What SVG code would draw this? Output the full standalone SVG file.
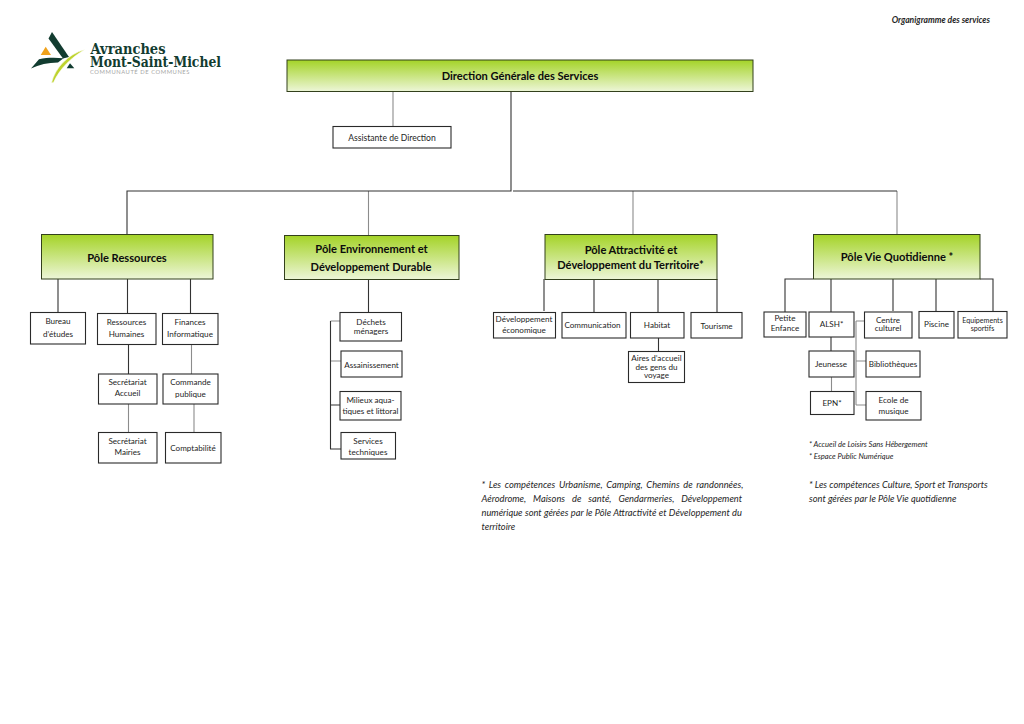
<svg xmlns="http://www.w3.org/2000/svg" width="1024" height="724" viewBox="0 0 1024 724">
<style>
text{font-family:Lato,"Liberation Sans",sans-serif;fill:#1e1e1e;text-anchor:middle}
.b rect{fill:#fff;stroke:#2a2a2a;stroke-width:1.1}
.b text{font-size:8.1px}
.p rect{fill:url(#g);stroke:#33401c;stroke-width:1}
.p text{font-size:11.1px;font-weight:700;fill:#0c0c0c}
.c path{fill:none;stroke:#333;stroke-width:1.1}
.c path.l{stroke:#8c8c8c}
.n text{text-anchor:start;font-style:italic;font-size:9.3px}
.s text{text-anchor:start;font-style:italic;font-size:7.6px}
.logo{font-family:"DejaVu Serif",serif;font-weight:700;fill:#123c30;text-anchor:start}
</style>
<defs><linearGradient id="g" x1="0" y1="0" x2="0" y2="1"><stop offset="0" stop-color="#a4d327"/><stop offset="1" stop-color="#edf6d8"/></linearGradient></defs>
<g id="logo">
<path fill="#123c30" d="M52 32L69 57 63 58.500 48.500 38.500Z"/>
<path fill="#123c30" d="M31 68.500L39 59.300C47 57.500 55 57.500 63.500 58.300L58 62.500C48 62.500 39 64.500 31 68.500Z"/>
<path fill="#123c30" d="M66.700 68.300L70 63.300 74.300 68.300Z"/>
<path fill="#f0a21c" d="M40.700 55L45.700 46.700 51 55Z"/>
<path fill="#bed32e" stroke="#fff" stroke-width=".6" d="M51.500 83C55 68 68 54 85 49.500 72 57 60 68 53.500 82.500Z"/>
<text class="logo" x="90.500" y="54" font-size="15.500" textLength="75" lengthAdjust="spacingAndGlyphs">Avranches</text>
<text class="logo" x="90" y="67" font-size="15.500" textLength="131" lengthAdjust="spacingAndGlyphs">Mont-Saint-Michel</text>
<text x="90" y="73.500" font-size="5.800" letter-spacing=".55" style="text-anchor:start;fill:#a6a6a6">COMMUNAUTÉ DE COMMUNES</text>
</g>
<text id="title" x="990" y="23" font-size="8.550" font-style="italic" font-weight="700" style="text-anchor:end">Organigramme des services</text>
<g id="connectors" class="c">
<path class="l" d="M393 91V126M368.500 191V235M633 191V234M897 191V234M128.500 404V433M191.500 344V374M194 404V432M330.500 321H340M330.500 361H341M856 321V405M856 321H864M856 361H866M856 405H866M831.500 377V391"/>
<path d="M511 91V191H127V234M513 191H897M58 279V312M127.500 279V313M190.500 279V313M128.500 344V374M368.500 279V312M330.500 321V449H341M330.500 405H340M544 279V311M594 279V312M658 279V312M717 279V312M658.500 338V351M785 312V279H813M831 279V312M893 279V311M936 279V311M980 279H993V311M831 337V351"/>
</g>
<g class="p">
<g id="dg"><rect x="287" y="60" width="466" height="31.500"/><text x="520" y="80">Direction Générale des Services</text></g>
<g id="pole-ressources"><rect x="41.500" y="234.500" width="171.500" height="44.500"/><text x="127" y="261.500">Pôle Ressources</text></g>
<g id="pole-environnement"><rect x="284.500" y="235.500" width="174.500" height="44"/><text x="371.500" y="253">Pôle Environnement et</text><text x="371" y="271">Développement Durable</text></g>
<g id="pole-attractivite"><rect x="545" y="234.500" width="172" height="45"/><text x="631" y="254">Pôle Attractivité et</text><text x="630.500" y="269">Développement du Territoire*</text></g>
<g id="pole-vie"><rect x="813.500" y="234.500" width="166.500" height="44.500"/><text x="897" y="261">Pôle Vie Quotidienne *</text></g>
</g>
<g class="b">
<g id="assistante"><rect x="333" y="126.500" width="118" height="21.500"/><text x="392" y="140.500" style="font-size:8.600px">Assistante de Direction</text></g>
<g id="bureau"><rect x="30.500" y="312.500" width="55" height="31.500"/><text x="58" y="324">Bureau</text><text x="58" y="337">d’études</text></g>
<g id="rh"><rect x="97.500" y="313.500" width="58.500" height="31"/><text x="126.500" y="325">Ressources</text><text x="126.500" y="337">Humaines</text></g>
<g id="finances"><rect x="162.500" y="313.500" width="55.500" height="31"/><text x="190" y="325">Finances</text><text x="190" y="337">Informatique</text></g>
<g id="sec-accueil"><rect x="98.500" y="374" width="58.500" height="30"/><text x="127.500" y="385">Secrétariat</text><text x="127.500" y="395.500">Accueil</text></g>
<g id="commande"><rect x="163" y="374" width="55" height="30"/><text x="190.500" y="385">Commande</text><text x="190.500" y="396.500">publique</text></g>
<g id="sec-mairies"><rect x="98.500" y="432.500" width="58.500" height="30.500"/><text x="127.500" y="444">Secrétariat</text><text x="127.500" y="455">Mairies</text></g>
<g id="comptabilite"><rect x="165.500" y="432.500" width="55.500" height="30.500"/><text x="193" y="451">Comptabilité</text></g>
<g id="dechets"><rect x="340" y="312.500" width="61.500" height="28.500"/><text x="371" y="325">Déchets</text><text x="371" y="333.500">ménagers</text></g>
<g id="assainissement"><rect x="341" y="351" width="61" height="26"/><text x="371.500" y="368">Assainissement</text></g>
<g id="milieux"><rect x="340" y="391.500" width="61" height="28.500"/><text x="370.500" y="403">Milieux aqua-</text><text x="370.500" y="414">tiques et littoral</text></g>
<g id="services"><rect x="341" y="432.500" width="54.500" height="26.500"/><text x="368" y="443.500">Services</text><text x="368" y="454.500">techniques</text></g>
<g id="dev-eco"><rect x="493.500" y="312.500" width="62" height="25.500"/><text x="524" y="322">Développement</text><text x="524" y="333">économique</text></g>
<g id="communication"><rect x="562" y="312.500" width="64" height="25.500"/><text x="592.500" y="328">Communication</text></g>
<g id="habitat"><rect x="630.500" y="312.500" width="53.500" height="25.500"/><text x="657" y="328">Habitat</text></g>
<g id="tourisme"><rect x="691" y="312.500" width="51" height="25.500"/><text x="716.500" y="328.500">Tourisme</text></g>
<g id="aires"><rect x="628.500" y="351.500" width="56" height="31"/><text x="656.500" y="361">Aires d’accueil</text><text x="656.500" y="369.500">des gens du</text><text x="656.500" y="378">voyage</text></g>
<g id="petite"><rect x="764" y="312" width="42" height="25"/><text x="785" y="321">Petite</text><text x="785" y="330.500">Enfance</text></g>
<g id="alsh"><rect x="809" y="312" width="45" height="25"/><text x="831.500" y="327">ALSH*</text></g>
<g id="centre"><rect x="864.500" y="312" width="47.500" height="26"/><text x="888" y="323">Centre</text><text x="888" y="331">culturel</text></g>
<g id="piscine"><rect x="919" y="311.500" width="35" height="26.500"/><text x="936.500" y="327">Piscine</text></g>
<g id="equipements"><rect x="958" y="311.500" width="49" height="26.500"/><text x="982.500" y="323" style="font-size:7.100px">Equipements</text><text x="982.500" y="330.500" style="font-size:7.100px">sportifs</text></g>
<g id="jeunesse"><rect x="809" y="351" width="45" height="26"/><text x="831" y="367">Jeunesse</text></g>
<g id="biblio"><rect x="866" y="351" width="54" height="26"/><text x="893" y="367">Bibliothèques</text></g>
<g id="epn"><rect x="810.500" y="391.500" width="43.500" height="23"/><text x="832" y="406">EPN*</text></g>
<g id="ecole"><rect x="866" y="391.500" width="55" height="28.500"/><text x="893.500" y="402.500">Ecole de</text><text x="893.500" y="414">musique</text></g>
</g>
<g class="s"><text x="809" y="447">* Accueil de Loisirs Sans Hébergement</text><text x="809" y="459">* Espace Public Numérique</text></g>
<g class="n">
<text x="481.500" y="488" word-spacing="1.500">* Les compétences Urbanisme, Camping, Chemins de randonnées,</text>
<text x="481.500" y="502" word-spacing="4.800">Aérodrome, Maisons de santé, Gendarmeries, Développement</text>
<text x="481.500" y="516" word-spacing=".2">numérique sont gérées par le Pôle Attractivité et Développement du</text>
<text x="481.500" y="530">territoire</text>
<text x="809" y="488">* Les compétences Culture, Sport et Transports</text>
<text x="809" y="502">sont gérées par le Pôle Vie quotidienne</text>
</g>
</svg>
